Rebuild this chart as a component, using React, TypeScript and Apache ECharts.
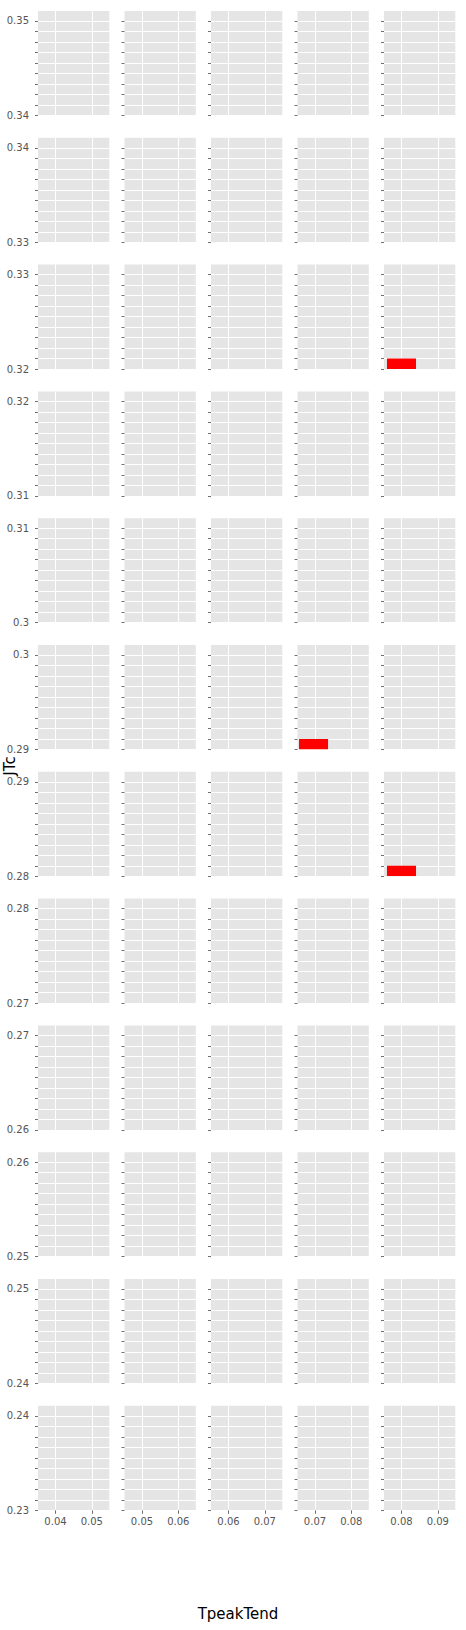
import React, { useEffect, useRef } from "react";
import * as echarts from "echarts";

// Facet rows: JTc bins (bottom label of each row), top to bottom
const rowBottoms = [0.34, 0.33, 0.32, 0.31, 0.3, 0.29, 0.28, 0.27, 0.26, 0.25, 0.24, 0.23];
// Facet columns: TpeakTend tick labels shown on each column's x axis
const colTicks = [
  [0.04, 0.05],
  [0.05, 0.06],
  [0.06, 0.07],
  [0.07, 0.08],
  [0.08, 0.09],
];
// Red bars (row index, column index, x extent, y extent)
const barRow = [2, 5, 6];
const barCol = [4, 3, 4];
const barX0 = [0.076, 0.0656, 0.076];
const barX1 = [0.084, 0.0736, 0.084];
const barY0 = [0.32, 0.29, 0.28];
const barY1 = [0.32111, 0.29111, 0.28111];

const xTitle = "TpeakTend";
const yTitle = "JTc";

const Y_STEPS = 9; // tick intervals between the two labelled ticks of a row

const fmt = (v: number) => String(Number(v.toFixed(2)));

export default function App() {
  const ref = useRef<HTMLDivElement>(null);
  useEffect(() => {
    if (!ref.current) return;
    const chart = echarts.init(ref.current, undefined, { renderer: "svg" });
    const grids: any[] = [];
    const xAxes: any[] = [];
    const yAxes: any[] = [];
    const series: any[] = [];
    const nR = rowBottoms.length;
    const nC = colTicks.length;
    const font = "DejaVu Sans";
    const tickColor = "#707070";
    const labelColor = "#555555";
    for (let r = 0; r < nR; r++) {
      for (let c = 0; c < nC; c++) {
        const idx = r * nC + c;
        grids.push({
          left: 38 + 86.5 * c,
          top: 11 + 126.8 * r,
          width: 71.3,
          height: 104.5,
          show: true,
          backgroundColor: "#e5e5e5",
          borderWidth: 0,
          containLabel: false,
        });
        const t0 = colTicks[c][0];
        const xmin = t0 - 0.00482;
        const isBottom = r === nR - 1;
        xAxes.push({
          type: "value",
          gridIndex: idx,
          min: xmin,
          max: xmin + 0.01964,
          axisLine: { show: false },
          axisTick: {
            show: isBottom,
            length: 3.5,
            lineStyle: { color: tickColor, width: 1 },
            customValues: colTicks[c],
          },
          axisLabel: {
            show: isBottom,
            customValues: colTicks[c],
            formatter: (v: number) => fmt(v),
            color: labelColor,
            fontFamily: font,
            fontSize: 10,
            margin: 6,
          },
          splitLine: { show: true, lineStyle: { color: "#ffffff", width: 1 } },
        });
        const b = rowBottoms[r];
        const yTicks: number[] = [];
        for (let k = 0; k <= Y_STEPS; k++) yTicks.push(b + (k * 0.01) / Y_STEPS);
        yAxes.push({
          type: "value",
          gridIndex: idx,
          min: b,
          max: b + 0.011058,
          axisLine: { show: false },
          axisTick: {
            show: true,
            length: 3,
            lineStyle: { color: tickColor, width: 1 },
            customValues: yTicks,
          },
          axisLabel: {
            show: c === 0,
            customValues: [b, b + 0.01],
            formatter: (v: number) => fmt(v),
            color: labelColor,
            fontFamily: font,
            fontSize: 10,
            margin: 9,
          },
          splitLine: { show: true, lineStyle: { color: "#ffffff", width: 1 } },
        });
      }
    }
    for (let i = 0; i < barRow.length; i++) {
      const idx = barRow[i] * nC + barCol[i];
      series.push({
        type: "custom",
        xAxisIndex: idx,
        yAxisIndex: idx,
        clip: true,
        data: [[barX0[i], barX1[i], barY0[i], barY1[i]]],
        renderItem: (params: any, api: any) => {
          const p0 = api.coord([api.value(0), api.value(2)]);
          const p1 = api.coord([api.value(1), api.value(3)]);
          return {
            type: "rect",
            shape: { x: p0[0], y: p1[1], width: p1[0] - p0[0], height: p0[1] - p1[1] },
            style: { fill: "#ff0000" },
          };
        },
      });
    }
    chart.setOption({
      animation: false,
      backgroundColor: "#ffffff",
      grid: grids,
      xAxis: xAxes,
      yAxis: yAxes,
      series,
      graphic: [
        {
          type: "text",
          x: 238,
          y: 1614,
          style: {
            text: xTitle,
            fontFamily: font,
            fontSize: 15,
            fill: "#000000",
            align: "center",
            verticalAlign: "middle",
          },
        },
        {
          type: "text",
          x: 10,
          y: 766,
          rotation: Math.PI / 2,
          style: {
            text: yTitle,
            fontFamily: font,
            fontSize: 15,
            fill: "#000000",
            align: "center",
            verticalAlign: "middle",
          },
        },
      ],
    });
    return () => chart.dispose();
  }, []);
  return (
    <div
      ref={ref}
      style={{ position: "absolute", left: 0, top: 0, width: 466, height: 1630 }}
    />
  );
}
